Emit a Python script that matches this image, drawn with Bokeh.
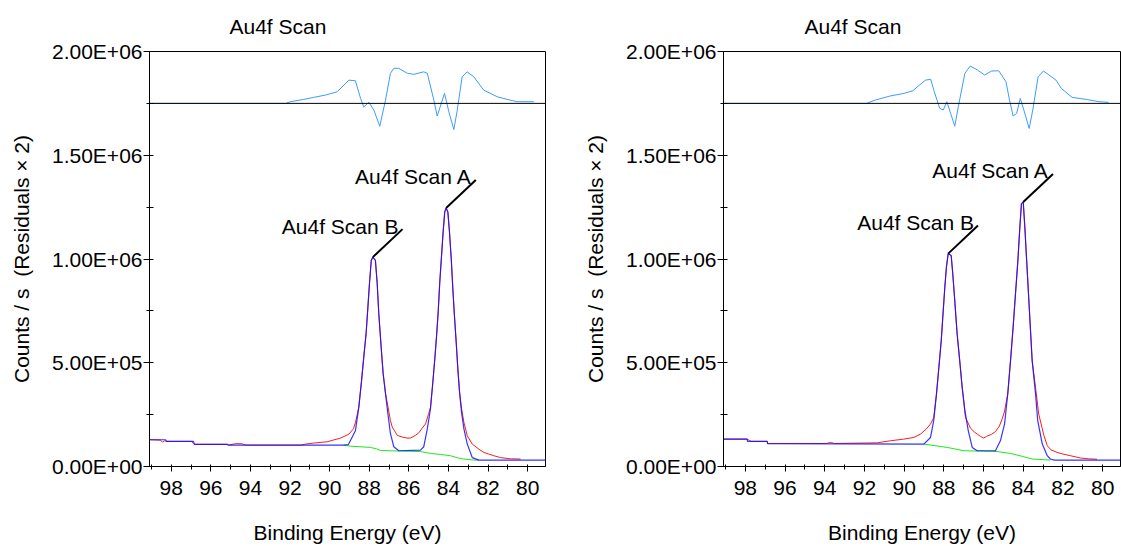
from bokeh.plotting import figure
from bokeh.layouts import row
from bokeh.models import Range1d, FixedTicker, CustomJSTickFormatter, Label, Span
from bokeh.embed import file_html
from bokeh.resources import INLINE

# ---------------- shared labels and ticks ----------------
TITLE = "Au4f Scan"
X_LABEL = "Binding Energy (eV)"
Y_LABEL = "Counts / s\u00a0\u00a0(Residuals \u00d7 2)"
PEAK_NAMES = ["Au4f Scan A", "Au4f Scan B"]

X_TICKS = [98, 96, 94, 92, 90, 88, 86, 84, 82, 80]
X_MINOR = [99, 97, 95, 93, 91, 89, 87, 85, 83, 81]
Y_TICKS = [0.0, 0.5e6, 1.0e6, 1.5e6, 2.0e6]
Y_MINOR = [0.25e6, 0.75e6, 1.25e6, 1.75e6]
RESIDUAL_ZERO = 1.75e6
MEGA = 1e6  # values below are in 10^6 counts / s

# ---------------- scan 1 ----------------
s1_data_ev = [99.10, 98.54, 98.44, 98.34, 98.24, 96.98, 96.88, 96.83, 95.21, 95.11, 94.76, 94.45,
              94.25, 91.47, 91.22, 90.80, 90.13, 89.45, 89.03, 88.80, 88.70, 88.53, 88.39, 88.28,
              88.16, 88.07, 87.99, 87.90, 87.82, 87.69, 87.60, 87.52, 87.40, 87.30, 87.18, 87.06,
              86.93, 86.84, 86.68, 86.59, 86.34, 86.10, 85.92, 85.67, 85.50, 85.33, 85.16, 85.00,
              84.91, 84.79, 84.69, 84.60, 84.52, 84.44, 84.35, 84.27, 84.19, 84.12, 84.03, 83.95,
              83.86, 83.78, 83.70, 83.61, 83.53, 83.44, 83.34, 83.22, 83.05, 82.80, 82.47, 82.22,
              81.97, 81.71, 81.38, 80.87, 80.36]
s1_data_cps = [0.129, 0.127, 0.117, 0.124, 0.121, 0.121, 0.110, 0.107, 0.107, 0.103, 0.110, 0.110,
               0.103, 0.103, 0.108, 0.113, 0.119, 0.137, 0.156, 0.182, 0.211, 0.285, 0.414, 0.526,
               0.641, 0.768, 0.882, 0.993, 1.009, 0.993, 0.882, 0.737, 0.575, 0.448, 0.351, 0.290,
               0.221, 0.190, 0.165, 0.150, 0.142, 0.137, 0.137, 0.150, 0.162, 0.185, 0.205, 0.255,
               0.285, 0.406, 0.519, 0.631, 0.744, 0.888, 1.017, 1.130, 1.226, 1.246, 1.226, 1.130,
               1.001, 0.857, 0.728, 0.599, 0.474, 0.357, 0.280, 0.212, 0.148, 0.108, 0.084, 0.068,
               0.060, 0.052, 0.043, 0.037, 0.036]

s1_fit_ev = [99.10, 98.29, 98.24, 96.88, 96.83, 95.16, 95.11, 89.30, 89.06, 88.70, 88.53, 88.39,
             88.28, 88.16, 88.07, 87.99, 87.90, 87.82, 87.69, 87.60, 87.52, 87.40, 87.30, 87.18,
             87.06, 86.93, 86.76, 86.51, 85.41, 85.25, 85.07, 84.91, 84.79, 84.69, 84.60, 84.52,
             84.44, 84.35, 84.27, 84.19, 84.12, 84.03, 83.95, 83.86, 83.78, 83.70, 83.61, 83.53,
             83.44, 83.34, 83.22, 83.05, 82.80, 82.47, 79.10]
s1_fit_cps = [0.129, 0.129, 0.121, 0.121, 0.107, 0.107, 0.103, 0.103, 0.105, 0.172, 0.285, 0.414,
              0.526, 0.641, 0.768, 0.882, 0.993, 1.009, 0.993, 0.882, 0.737, 0.575, 0.448, 0.351,
              0.254, 0.158, 0.095, 0.076, 0.079, 0.095, 0.181, 0.277, 0.406, 0.519, 0.631, 0.744,
              0.888, 1.017, 1.130, 1.226, 1.246, 1.226, 1.130, 1.001, 0.857, 0.728, 0.599, 0.474,
              0.357, 0.261, 0.181, 0.108, 0.043, 0.031, 0.031]

s1_bg_ev = [89.30, 88.95, 87.94, 87.64, 87.43, 85.41, 84.91, 84.40, 83.90, 83.54, 83.23, 82.72, 82.47]
s1_bg_cps = [0.103, 0.098, 0.092, 0.085, 0.077, 0.072, 0.063, 0.058, 0.052, 0.042, 0.036, 0.031, 0.031]

s1_res_ev = [99.10, 92.23, 91.98, 91.31, 90.80, 90.21, 89.62, 89.03, 88.70, 88.44, 88.28, 88.02,
             87.77, 87.47, 87.18, 86.93, 86.76, 86.51, 86.08, 85.75, 85.25, 85.07, 84.74, 84.57,
             84.20, 83.98, 83.73, 83.57, 83.31, 83.06, 82.72, 82.22, 81.54, 81.03, 80.53, 79.69]
s1_res_cps = [0.000, 0.000, 0.008, 0.019, 0.029, 0.040, 0.056, 0.112, 0.109, 0.024, -0.017, 0.005,
              -0.032, -0.110, 0.016, 0.145, 0.169, 0.169, 0.145, 0.140, 0.152, 0.145, 0.016, -0.061,
              0.048, -0.041, -0.126, -0.041, 0.128, 0.152, 0.128, 0.064, 0.032, 0.019, 0.008, 0.008]

s1_peak_ev = [84.12, 87.82]
s1_peak_cps = [1.246, 1.009]

# ---------------- scan 2 ----------------
s2_data_ev = [99.10, 97.91, 97.80, 97.70, 96.90, 96.88, 93.91, 93.71, 93.51, 91.36, 90.69, 90.02,
              89.51, 89.18, 88.88, 88.67, 88.51, 88.37, 88.25, 88.13, 88.03, 87.95, 87.87, 87.78,
              87.63, 87.55, 87.45, 87.33, 87.20, 87.08, 86.91, 86.66, 86.45, 86.30, 86.15, 86.00,
              85.85, 85.60, 85.40, 85.20, 85.08, 84.95, 84.78, 84.64, 84.51, 84.39, 84.27, 84.17,
              84.09, 84.00, 83.92, 83.80, 83.67, 83.55, 83.38, 83.22, 82.96, 82.79, 82.60, 82.30,
              82.00, 81.62, 81.12, 80.70, 80.28]
s2_data_cps = [0.132, 0.132, 0.126, 0.121, 0.121, 0.111, 0.111, 0.116, 0.111, 0.114, 0.124, 0.132,
               0.140, 0.156, 0.181, 0.205, 0.235, 0.350, 0.478, 0.607, 0.752, 0.864, 0.961, 1.026,
               1.017, 0.929, 0.800, 0.639, 0.510, 0.390, 0.237, 0.185, 0.165, 0.155, 0.145, 0.137,
               0.145, 0.155, 0.168, 0.195, 0.225, 0.262, 0.350, 0.510, 0.671, 0.832, 0.993, 1.154,
               1.267, 1.275, 1.154, 0.945, 0.719, 0.510, 0.381, 0.253, 0.150, 0.100, 0.080, 0.068,
               0.060, 0.052, 0.041, 0.037, 0.035]

s2_fit_ev = [99.10, 97.91, 97.89, 96.90, 96.88, 89.01, 88.67, 88.51, 88.37, 88.25, 88.13, 88.03,
             87.95, 87.87, 87.78, 87.63, 87.55, 87.45, 87.33, 87.20, 87.08, 86.94, 86.77, 86.57,
             86.32, 85.40, 85.15, 84.94, 84.78, 84.64, 84.51, 84.39, 84.27, 84.17, 84.09, 84.00,
             83.92, 83.80, 83.67, 83.55, 83.38, 83.27, 83.04, 82.79, 82.63, 82.43, 79.10]
s2_fit_cps = [0.132, 0.132, 0.121, 0.121, 0.110, 0.108, 0.140, 0.221, 0.350, 0.478, 0.607, 0.752,
              0.864, 0.961, 1.026, 1.017, 0.929, 0.800, 0.639, 0.510, 0.382, 0.269, 0.173, 0.092,
              0.076, 0.076, 0.124, 0.205, 0.350, 0.510, 0.671, 0.832, 0.993, 1.154, 1.267, 1.275,
              1.154, 0.945, 0.719, 0.510, 0.350, 0.221, 0.108, 0.052, 0.036, 0.031, 0.031]

s2_bg_ev = [89.01, 87.83, 86.99, 85.31, 84.64, 83.97, 83.55, 82.63]
s2_bg_cps = [0.108, 0.092, 0.076, 0.072, 0.063, 0.047, 0.036, 0.031]

s2_res_ev = [99.10, 91.90, 91.45, 90.73, 90.01, 89.56, 89.29, 88.92, 88.66, 88.48, 88.21, 88.03,
             87.85, 87.66, 87.45, 87.27, 86.94, 86.67, 86.31, 85.95, 85.59, 85.23, 84.87, 84.69,
             84.51, 84.33, 84.15, 83.97, 83.70, 83.52, 83.25, 82.98, 82.35, 82.08, 81.54, 80.82,
             80.18, 79.70]
s2_res_cps = [0.000, 0.000, 0.016, 0.035, 0.048, 0.061, 0.083, 0.112, 0.116, 0.056, -0.024, -0.032,
              0.008, -0.048, -0.110, -0.016, 0.145, 0.180, 0.161, 0.137, 0.156, 0.157, 0.104, 0.016,
              -0.061, -0.048, 0.024, -0.032, -0.121, -0.032, 0.128, 0.156, 0.112, 0.072, 0.029, 0.019,
              0.008, 0.005]

s2_peak_ev = [84.00, 87.78]
s2_peak_cps = [1.275, 1.026]

FONT = "Liberation Sans"
FS = "21px"

TICK_CODE = """
const parts = tick.toExponential(2).split("e");
let e = parts[1];
const sign = e[0] == "-" ? "-" : "+";
e = e.replace("+", "").replace("-", "");
if (e.length < 2) { e = "0" + e; }
return parts[0] + "E" + sign + e;
"""


def scaled(vals):
    return [v * MEGA for v in vals]


def panel(data_ev, data_cps, fit_ev, fit_cps, bg_ev, bg_cps, res_ev, res_cps,
          peak_ev, peak_cps, width, border_left, border_right, title_offset):
    p = figure(width=width, height=546, output_backend="svg", toolbar_location=None,
               x_range=Range1d(99.1, 79.1), y_range=Range1d(0, 2.0e6),
               min_border_left=border_left, min_border_right=border_right,
               min_border_top=51, min_border_bottom=80, title=TITLE)
    p.background_fill_color = "white"
    p.border_fill_color = "white"
    p.outline_line_color = "black"
    p.outline_line_width = 1
    p.outline_line_alpha = 1.0
    p.xgrid.visible = False
    p.ygrid.visible = False

    p.title.align = "left"
    p.title.offset = title_offset
    p.title.vertical_align = "top"
    p.title.text_font = FONT
    p.title.text_font_size = FS
    p.title.text_font_style = "normal"
    p.title.text_color = "black"
    p.title.standoff = 24

    # spectrum layers: measured data, background, fitted envelope
    p.line(data_ev, scaled(data_cps), line_color="#ff1a1a", line_width=1)
    p.line(bg_ev, scaled(bg_cps), line_color="#1ee61e", line_width=1)
    p.line(fit_ev, scaled(fit_cps), line_color="#1010ff", line_width=1.2, line_alpha=0.85)

    # residual strip above the spectrum
    p.add_layout(Span(location=RESIDUAL_ZERO, dimension="width", line_color="black", line_width=1))
    p.line(res_ev, [RESIDUAL_ZERO + v * MEGA for v in res_cps], line_color="#3d9bff", line_width=1)

    # peak annotations with leader lines
    end_ev = [e - 1.5 for e in peak_ev]
    end_cps = [(c + 0.135) * MEGA for c in peak_cps]
    p.segment(peak_ev, scaled(peak_cps), end_ev, end_cps, line_color="black", line_width=2)
    for name, ex, ey in zip(PEAK_NAMES, end_ev, end_cps):
        p.add_layout(Label(x=ex, y=ey, x_offset=-4, y_offset=3, text=name,
                           text_align="right", text_baseline="middle",
                           text_font=FONT, text_font_size=FS, text_color="black"))

    xa = p.xaxis[0]
    xa.ticker = FixedTicker(ticks=X_TICKS, minor_ticks=X_MINOR)
    xa.axis_label = X_LABEL
    xa.major_tick_in = 2
    xa.major_tick_out = 5
    xa.minor_tick_in = 2
    xa.minor_tick_out = 3
    xa.major_label_standoff = 9
    xa.axis_label_standoff = 23

    ya = p.yaxis[0]
    ya.ticker = FixedTicker(ticks=Y_TICKS, minor_ticks=Y_MINOR)
    ya.formatter = CustomJSTickFormatter(code=TICK_CODE)
    ya.axis_label = Y_LABEL
    ya.major_tick_in = 4
    ya.major_tick_out = 6
    ya.minor_tick_in = 4
    ya.minor_tick_out = 3
    ya.major_label_standoff = 1
    ya.axis_label_standoff = 16

    for ax in (xa, ya):
        ax.axis_line_color = "black"
        ax.major_tick_line_color = "black"
        ax.minor_tick_line_color = "black"
        ax.major_label_text_font = FONT
        ax.major_label_text_font_size = FS
        ax.major_label_text_color = "black"
        ax.axis_label_text_font = FONT
        ax.axis_label_text_font_size = FS
        ax.axis_label_text_font_style = "normal"
        ax.axis_label_text_color = "black"
    return p


left = panel(s1_data_ev, s1_data_cps, s1_fit_ev, s1_fit_cps, s1_bg_ev, s1_bg_cps,
             s1_res_ev, s1_res_cps, s1_peak_ev, s1_peak_cps, 560, 149, 15, 80)
right = panel(s2_data_ev, s2_data_cps, s2_fit_ev, s2_fit_cps, s2_bg_ev, s2_bg_cps,
              s2_res_ev, s2_res_cps, s2_peak_ev, s2_peak_cps, 561, 163, 1, 81)

layout = row(left, right)
open("out.html", "w").write(file_html(layout, INLINE))
